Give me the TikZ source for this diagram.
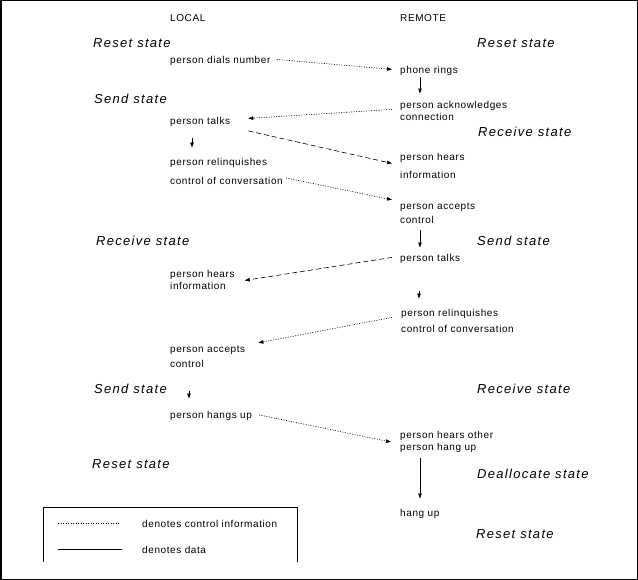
\documentclass[tikz,border=0pt]{standalone}
\usepackage{fontspec}
\setmainfont{Liberation Sans}
\newfontfamily\actfont[LetterSpace=6]{Liberation Sans}
\newfontfamily\statefont[LetterSpace=10]{Liberation Sans}
\usetikzlibrary{arrows.meta,calc}

\begin{document}
\begin{tikzpicture}[x=1pt, y=-1pt,
  act/.style={anchor=base west, inner sep=0pt, align=left,
              font=\actfont\fontsize{10}{12}\selectfont},
  state/.style={anchor=base west, inner sep=0pt,
                font=\statefont\itshape\fontsize{13}{15}\selectfont},
  tip/.style={-{Triangle[length=5pt,width=3.5pt]}},
  ctrl/.style={tip, line width=0.6pt, dash pattern=on 1pt off 1.5pt},
  data/.style={tip, line width=0.6pt, dash pattern=on 5pt off 3pt},
  flow/.style={tip, line width=0.8pt}]
  \useasboundingbox (0,0) rectangle (638,580);
  \draw[line width=1.5pt] (0.75,0.75) rectangle (637.25,579.25);

  % column heads
  \node[act] (local) at (170,22) {LOCAL};
  \node[act] (remote) at (400,22) {REMOTE};

  % states
  \node[state] (resetL) at (93,48) {Reset state};
  \node[state] (resetR) at (477,48) {Reset state};
  \node[state] (sendL) at (94,104) {Send state};
  \node[state] (recvR) at (478,137) {Receive state};
  \node[state] (recvL) at (96,246) {Receive state};
  \node[state] (sendR) at (477,246) {Send state};
  \node[state] (sendL2) at (94,393) {Send state};
  \node[state] (recvR2) at (477,394) {Receive state};
  \node[state] (resetL2) at (92,468) {Reset state};
  \node[state] (dealloc) at (477,478) {Deallocate state};
  \node[state] (resetR2) at (476,538) {Reset state};

  % actions (two-line nodes sit on the baseline of their last line)
  \node[act] (dials) at (170,64) {person dials number};
  \node[act] (rings) at (400,74) {phone rings};
  \node[act] (ack) at (400,121) {person acknowledges\\connection};
  \node[act] (talksL) at (170,125) {person talks};
  \node[act] (hearsR) at (400,179) {person hears\\[6pt]information};
  \node[act] (relinqL) at (170,185) {person relinquishes\\[7pt]control of conversation};
  \node[act] (acceptsR) at (400,224) {person accepts\\[2pt]control};
  \node[act] (talksR) at (400,262) {person talks};
  \node[act] (hearsL) at (170,290) {person hears\\information};
  \node[act] (relinqR) at (401,333) {person relinquishes\\[4pt]control of conversation};
  \node[act] (acceptsL) at (170,368) {person accepts\\[4pt]control};
  \node[act] (hangsL) at (170,418) {person hangs up};
  \node[act] (hearsOther) at (400,450) {person hears other\\person hang up};
  \node[act] (hangup) at (400,516) {hang up};

  % messages
  \draw[ctrl] ($(dials.east)+(6,-2)$) -- ($(rings.west)+(-8,-2)$);
  \draw[flow] ($(rings.south west)+(20,1)$) -- ($(ack.north west)+(20,-8)$);
  \draw[ctrl] ($(ack.west)+(-8,-2)$) -- ($(talksL.east)+(18,-4)$);
  \draw[data] ($(talksL.east)+(18,8.5)$) -- ($(hearsR.west)+(-8,-3)$);
  \draw[flow] ($(talksL.south west)+(22,11)$) -- ($(relinqL.north west)+(22,-11)$);
  \draw[ctrl] ($(relinqL.east)+(3,6)$) -- ($(acceptsR.west)+(-8,-14)$);
  \draw[flow] ($(acceptsR.south west)+(20,6)$) -- ($(talksR.north west)+(20,-7)$);
  \draw[data] ($(talksR.west)+(-8,-2)$) -- ($(hearsL.east)+(10,0)$);
  \draw[flow] ($(talksR.south west)+(19,27)$) -- ($(relinqR.north west)+(18,-11)$);
  \draw[ctrl] ($(relinqR.west)+(-9,-4)$) -- ($(acceptsL.east)+(13,-14)$);
  \draw[flow] ($(acceptsL.south west)+(19,23)$) -- ($(hangsL.north west)+(19,-12)$);
  \draw[ctrl] ($(hangsL.east)+(7,-0.5)$) -- ($(hearsOther.west)+(-9,0.6)$);
  \draw[flow] ($(hearsOther.south west)+(20,6)$) -- ($(hangup.north west)+(20,-10)$);

  % legend
  \draw[line width=0.8pt] (43,562) -- (43,507) -- (297,507) -- (297,562);
  \draw[line width=0.6pt, dash pattern=on 1pt off 1.5pt] (58,523) -- (120,523);
  \draw[line width=0.8pt] (58,549) -- (122,549);
  \node[act] (ctrlkey) at (142,527) {denotes control information};
  \node[act] (datakey) at (142,553) {denotes data};
\end{tikzpicture}
\end{document}
